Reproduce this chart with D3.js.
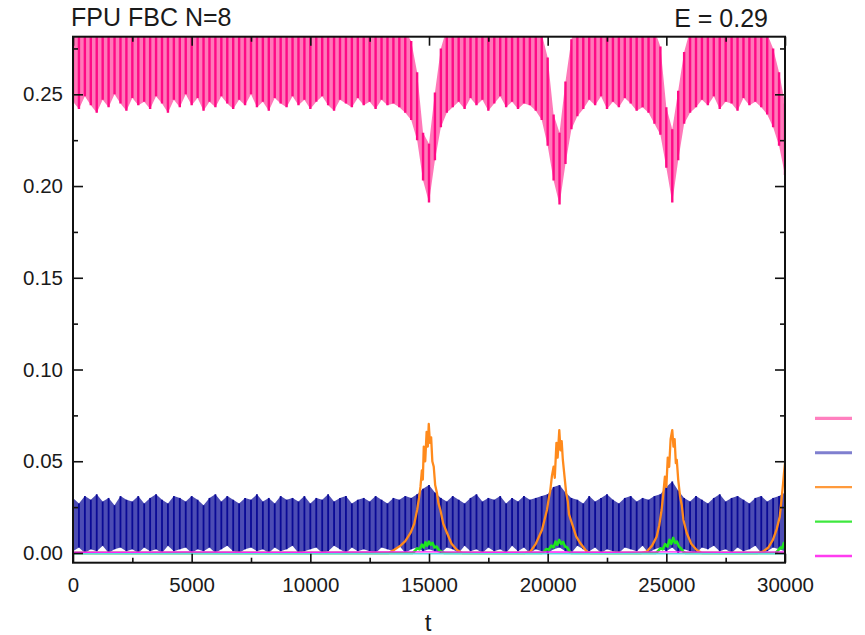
<!DOCTYPE html>
<html><head><meta charset="utf-8">
<script src="https://cdn.jsdelivr.net/npm/d3@7"></script>
<style>
html,body{margin:0;padding:0;background:#fff;}
svg{display:block;font-family:"Liberation Sans",Arial,sans-serif;}
</style></head>
<body>
<svg id="chart" width="865" height="635"></svg>
<script>
// ---------------- DATA ----------------
const titleText = "FPU FBC N=8";
const energyText = "E = 0.29";
const xLabel = "t";
const sampleStep = 250;            // time between samples of the banded series
const xMajorTicks = [0, 5000, 10000, 15000, 20000, 25000, 30000];
const xMinorTicks = [2500, 7500, 12500, 17500, 22500, 27500];
const yMajorTicks = [0.00, 0.05, 0.10, 0.15, 0.20, 0.25];
const yMinorTicks = [0.025, 0.075, 0.125, 0.175, 0.225, 0.275];

// mode 1 (pink): per-sample maximum / minimum of the fast oscillation
const pinkHi = [
 .292,.288,.295,.286,.290,.294,.287,.291,.289,.296,
 .285,.293,.290,.288,.294,.286,.292,.289,.295,.287,
 .291,.288,.294,.290,.286,.293,.289,.295,.287,.292,
 .290,.286,.294,.288,.291,.295,.287,.290,.293,.288,
 .292,.289,.295,.286,.291,.288,.294,.290,.287,.293,
 .289,.292,.288,.290,.286,.287,.284,
 .279,.262,.229,.223,.251,.275,.286,.291,
 .288,.294,.290,.287,.293,.289,.291,.295,.288,.290,.286,.292,.288,.284,
 .283,.270,.239,.229,.257,.280,.288,
 .291,.294,.289,.287,.293,.290,.288,.295,.289,.292,.287,.290,.285,
 .276,.243,.231,.252,.273,.285,
 .290,.294,.288,.291,.287,.293,.289,.295,.290,.288,.292,.287,
 .283,.275,.262,.245
];
const pinkLo = [
 .246,.242,.249,.244,.240,.247,.243,.250,.245,.241,
 .248,.244,.246,.242,.249,.245,.240,.247,.243,.250,
 .244,.248,.241,.246,.243,.249,.245,.242,.247,.244,
 .250,.243,.246,.241,.248,.245,.243,.249,.244,.247,
 .242,.246,.249,.244,.241,.247,.245,.243,.248,.244,
 .246,.242,.247,.244,.245,
 .243,.240,.236,.225,.203,.191,.214,.232,.240,.243,.246,
 .242,.248,.244,.247,.241,.245,.249,.243,.246,.242,.245,
 .244,.241,.236,.222,.203,.190,.212,.231,.238,.242,
 .247,.244,.249,.242,.246,.243,.248,.245,.241,
 .243,.240,.234,.228,.210,.191,.214,.234,.240,.243,
 .247,.244,.249,.242,.246,.245,.241,.248,.244,.246,
 .243,.239,.232,.222,.206
];
// mode 2 (blue)
const blueHi = [
 .030,.027,.031,.029,.032,.028,.030,.026,.031,.029,
 .028,.031,.027,.030,.032,.029,.027,.031,.030,.028,
 .031,.029,.026,.030,.032,.028,.031,.029,.027,.030,
 .029,.032,.028,.030,.027,.031,.029,.030,.028,.031,
 .027,.030,.029,.032,.028,.030,.031,.027,.029,.030,
 .028,.031,.029,.027,.030,.029,.031,.030,
 .032,.035,.037,.033,
 .030,.028,.031,.029,.027,.030,.032,.028,.030,.029,.031,.027,.030,.028,.031,.029,.030,.031,
 .032,.036,.037,.033,
 .030,.029,.027,.031,.028,.030,.032,.029,.027,.030,.031,.028,.030,.029,.031,
 .032,.036,.039,.034,
 .030,.028,.031,.029,.027,.030,.032,.028,.030,.031,.029,.027,.030,.031,.028,.030,
 .031,.033
];
const blueLo = [
 .001,.003,.000,.002,.001,.004,.000,.002,.003,.001,
 .002,.000,.003,.001,.002,.000,.004,.001,.002,.003,
 .000,.002,.001,.003,.000,.002,.004,.001,.000,.002,
 .003,.001,.002,.000,.003,.001,.002,.004,.000,.001,
 .002,.003,.000,.001,.004,.002,.000,.003,.001,.002,
 .001,.000,.003,.002,.001,.004,.000,.002,.003,.001,
 .002,.001,.000,.003,.002,.000,.004,.001,.002,.000,
 .003,.001,.002,.000,.004,.001,.003,.000,.002,.001,
 .000,.002,.003,.001,.000,.004,.002,.001,.003,.000,
 .002,.001,.000,.003,.002,.001,.004,.000,.002,.003,
 .001,.003,.000,.002,.001,.000,.003,.002,.004,.001,
 .002,.000,.003,.001,.002,.004,.000,.001,.003,.002,
 .001
];
// mode 3 (orange)
const orangeT = [0,13300,13520,13800,14000,14220,14380,14500,14580,14640,14700,14740,14780,14840,14900,14950,14990,15040,15090,15140,15200,15260,15330,15400,15480,15600,15760,15950,16180,16400,
 19050,19270,19500,19760,19970,20050,20110,20180,20250,20300,20370,20420,20490,20540,20590,20640,20700,20780,20850,20900,21020,21200,21370,21650,21800,
 23950,24170,24400,24590,24700,24800,24870,24940,25000,25060,25120,25180,25250,25300,25350,25400,25440,25500,25580,25650,25720,25860,26050,26280,26500,
 28850,29070,29300,29490,29650,29780,29860,29920,29960,30000];
const orangeV = [0,0,.0016,.004,.0065,.0109,.016,.0234,.030,.036,.045,.040,.058,.050,.066,.058,.0703,.060,.063,.050,.047,.037,.033,.027,.0234,.016,.0109,.005,.0016,0,
 0,.0007,.005,.0125,.0234,.030,.034,.042,.047,.041,.060,.052,.067,.056,.061,.0507,.043,.0327,.028,.021,.0163,.009,.0054,.0007,0,
 0,.0007,.004,.0089,.015,.0234,.032,.0416,.036,.052,.047,.062,.067,.058,.062,.049,.0507,.040,.0307,.026,.018,.0109,.005,.0016,0,
 0,.0007,.003,.0071,.013,.0198,.030,.038,.044,.049];
// mode 4 (green)
const greenT = [0,14300,14400,14500,14600,14700,14780,14850,14920,15000,15070,15150,15230,15320,15420,15560,15650,
 19750,19850,19950,20050,20150,20250,20330,20410,20490,20570,20650,20730,20820,20920,21000,
 24550,24650,24750,24850,24950,25050,25130,25210,25290,25370,25450,25530,25620,25700,25800,
 29600,29700,29800,29880,29950,30000];
const greenV = [0,0,.001,.0025,.002,.0045,.003,.0058,.004,.0062,.0045,.0055,.003,.0035,.0015,.0005,0,
 0,.0008,.0022,.0018,.004,.003,.0062,.0045,.0071,.005,.006,.0035,.003,.001,0,
 0,.001,.0025,.002,.0048,.0035,.0072,.005,.0082,.0055,.0062,.0035,.0025,.0008,0,
 0,.0012,.003,.0025,.0054,.0045];
// mode 5 (magenta) and the lowest mode (cyan), both flat at the bottom
const flatT = [0,2500,5000,7500,10000,12500,15000,17500,20000,22500,25000,27500,30000];
const magentaV = [.0004,.0004,.0005,.0004,.0004,.0005,.0006,.0004,.0005,.0004,.0006,.0004,.0005];
const cyanV = [-.0004,-.0004,-.0004,-.0004,-.0004,-.0004,-.0004,-.0004,-.0004,-.0004,-.0004,-.0004,-.0004];

const legendColors = ["#ff80bf","#7f7fcf","#ff9a3c","#3ee83e","#ff3cf0"];

// ---------------- DRAWING ----------------
const svg = d3.select("#chart");
const L = 73, R = 785, T = 36.7, B = 562.7;
const x = d3.scaleLinear().domain([0, 30000]).range([L, R]);
const y = d3.scaleLinear().domain([-0.0053, 0.2814]).range([B, T]);

svg.append("defs").append("clipPath").attr("id","plotclip")
  .append("rect").attr("x",L).attr("y",T).attr("width",R-L).attr("height",B-T);
const plot = svg.append("g").attr("clip-path","url(#plotclip)");

function banded(hi, lo, fillCol, strokeCol, sw) {
  const rows = hi.map((h,i) => ({t: i*sampleStep, hi: h, lo: lo[i]}));
  const area = d3.area().x(d => x(d.t)).y0(d => y(d.lo)).y1(d => y(d.hi));
  plot.append("path").datum(rows).attr("d", area).attr("fill", fillCol);
  plot.append("g").selectAll("line").data(rows).join("line")
    .attr("x1", d => x(d.t)).attr("x2", d => x(d.t))
    .attr("y1", d => y(d.lo)).attr("y2", d => y(d.hi))
    .attr("stroke", strokeCol).attr("stroke-width", sw);
}
banded(pinkHi, pinkLo, "#ff78b9", "#ff0a86", 2.4);
banded(blueHi, blueLo, "#4c4cb4", "#0a0a96", 1.8);

function curve(ts, vs, col, sw) {
  const rows = ts.map((t,i) => ({t, v: vs[i]}));
  plot.append("path").datum(rows)
    .attr("d", d3.line().x(d => x(d.t)).y(d => y(d.v)))
    .attr("fill","none").attr("stroke",col).attr("stroke-width",sw)
    .attr("stroke-linejoin","round");
}
curve(orangeT, orangeV, "#ff8a1c", 2.3);
curve(greenT, greenV, "#1ee61e", 2.6);
curve(flatT, cyanV, "#5cdcdc", 1.6);
curve(flatT, magentaV, "#ff1ef5", 1.4);

// axes (ticks point inward, mirrored on top and right)
const fontCss = "20.5px";
const gB = svg.append("g").attr("transform",`translate(0,${B})`)
  .call(d3.axisBottom(x).tickValues(xMajorTicks).tickSize(-9).tickPadding(15).tickFormat(d3.format("d")));
const gBm = svg.append("g").attr("transform",`translate(0,${B})`)
  .call(d3.axisBottom(x).tickValues(xMinorTicks).tickSize(-5).tickFormat(""));
const gT = svg.append("g").attr("transform",`translate(0,${T})`)
  .call(d3.axisTop(x).tickValues(xMajorTicks).tickSize(-9).tickFormat(""));
const gTm = svg.append("g").attr("transform",`translate(0,${T})`)
  .call(d3.axisTop(x).tickValues(xMinorTicks).tickSize(-5).tickFormat(""));
const gL = svg.append("g").attr("transform",`translate(${L},0)`)
  .call(d3.axisLeft(y).tickValues(yMajorTicks).tickSize(-10).tickPadding(10).tickFormat(d3.format(".2f")));
const gLm = svg.append("g").attr("transform",`translate(${L},0)`)
  .call(d3.axisLeft(y).tickValues(yMinorTicks).tickSize(-5).tickFormat(""));
const gR = svg.append("g").attr("transform",`translate(${R},0)`)
  .call(d3.axisRight(y).tickValues(yMajorTicks).tickSize(-10).tickFormat(""));
const gRm = svg.append("g").attr("transform",`translate(${R},0)`)
  .call(d3.axisRight(y).tickValues(yMinorTicks).tickSize(-5).tickFormat(""));
[gB,gBm,gT,gTm,gL,gLm,gR,gRm].forEach(g => {
  g.select(".domain").remove();
  g.selectAll(".tick line").attr("stroke","#111").attr("stroke-width",1.6);
  g.selectAll(".tick text").attr("fill","#1a1a1a")
    .style("font-size",fontCss).style("font-family",'"Liberation Sans",Arial,sans-serif');
});

svg.append("rect").attr("x",L).attr("y",T).attr("width",R-L).attr("height",B-T)
  .attr("fill","none").attr("stroke","#111").attr("stroke-width",2);

// texts
svg.append("text").attr("x",71).attr("y",26).attr("font-size","25px").attr("fill","#1a1a1a").text(titleText);
svg.append("text").attr("x",768).attr("y",27).attr("text-anchor","end").attr("font-size","25px").attr("fill","#1a1a1a").text(energyText);
svg.append("text").attr("x",428).attr("y",631).attr("text-anchor","middle").attr("font-size","24px").attr("fill","#1a1a1a").text(xLabel);

// legend (line samples only)
const legendY = d3.scalePoint().domain(d3.range(legendColors.length)).range([418.3, 556]);
svg.append("g").selectAll("line").data(legendColors).join("line")
  .attr("x1",815).attr("x2",852)
  .attr("y1",(d,i)=>legendY(i)).attr("y2",(d,i)=>legendY(i))
  .attr("stroke",d=>d).attr("stroke-width",(d,i)=> i<2 ? 3.2 : 2.4);
</script>
</body></html>
